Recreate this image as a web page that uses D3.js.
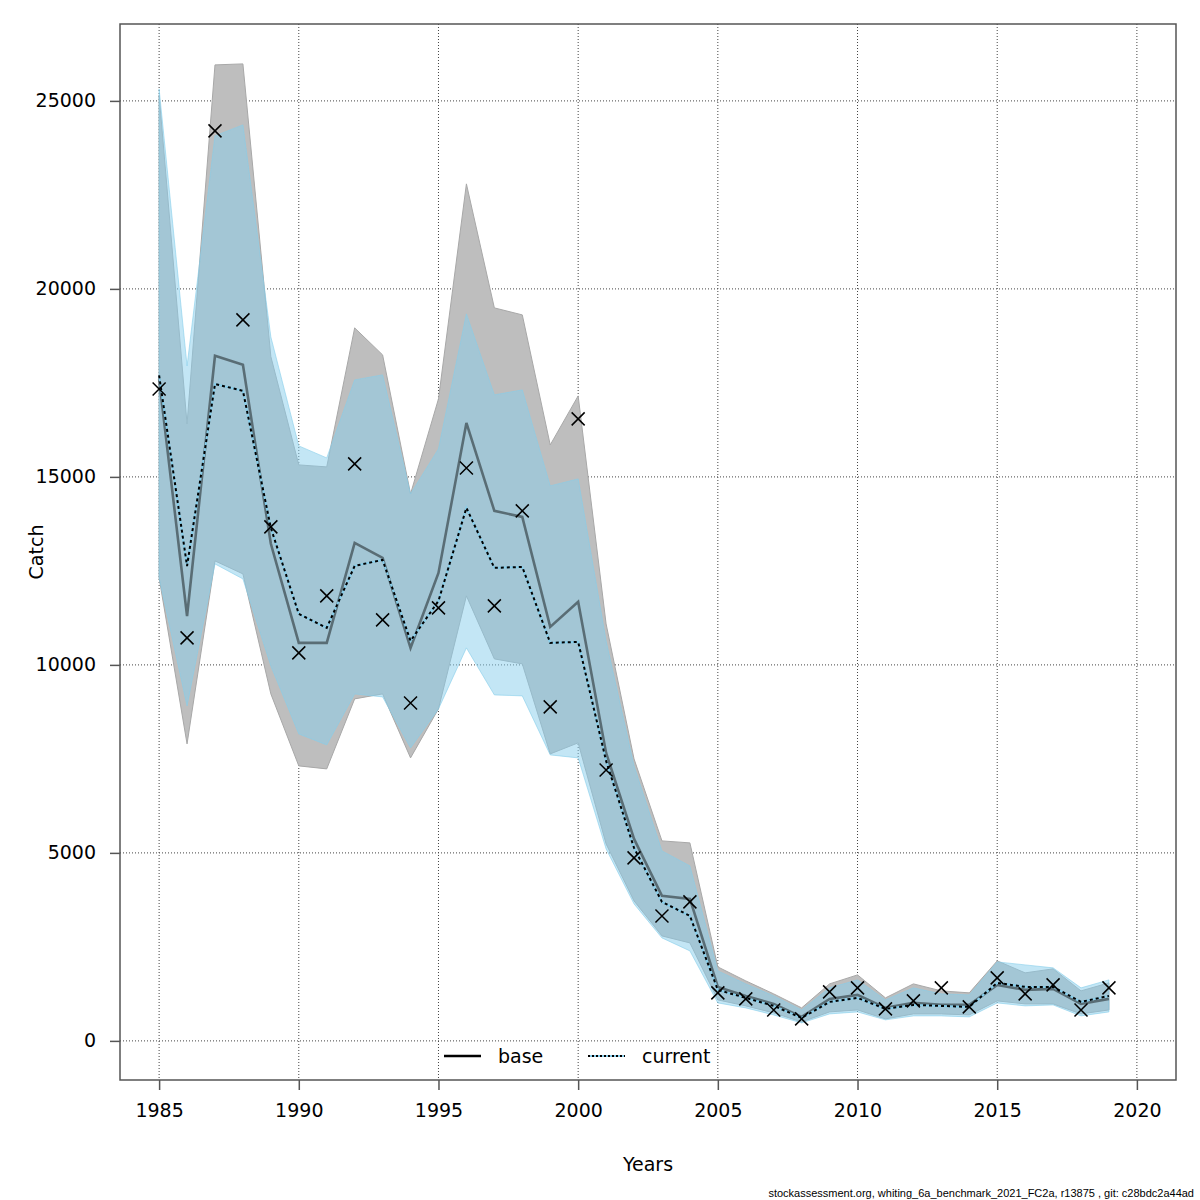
<!DOCTYPE html>
<html>
<head>
<meta charset="utf-8">
<script src="https://cdn.jsdelivr.net/npm/d3@7"></script>
<style>
  body { margin: 0; background: white; }
  svg { display: block; font-family: "DejaVu Sans", sans-serif; }
</style>
</head>
<body>
<svg id="main-svg" width="1200" height="1200"></svg>
<script>
// years of the assessment
const years = d3.range(1985, 2020);

// observed catch (crosses)
const observed = [17340, 10718, 24202, 19176, 13670, 10319, 11835, 15346, 11197, 8989,
  11516, 15239, 11569, 14096, 8883, 16543, 7207, 4867, 3324, 3697,
  1277, 1117, 824, 585, 1303, 1410, 851, 1064, 1410, 904,
  1676, 1250, 1489, 824, 1410];

// base run: estimate and confidence bounds
const baseEst = [17600, 11300, 18220, 17980, 13220, 10585, 10585, 13245, 12846, 10452,
  12447, 16436, 14096, 13936, 11011, 11676, 7660, 5372, 3856, 3777,
  1436, 1197, 984, 638, 1117, 1223, 878, 1011, 957, 957,
  1489, 1356, 1383, 984, 1117];
const baseLow = [12314, 7899, 12766, 12420, 9229, 7314, 7234, 9096, 9229, 7527,
  8830, 11835, 10160, 10027, 7633, 7926, 5239, 3723, 2792, 2606,
  1090, 931, 745, 505, 771, 824, 585, 718, 718, 691,
  1064, 984, 984, 718, 824];
const baseHigh = [25150, 16410, 25958, 25984, 18200, 15319, 15266, 18963, 18245, 14548,
  17075, 22793, 19495, 19309, 15851, 17154, 11090, 7500, 5319, 5266,
  1968, 1596, 1250, 878, 1516, 1755, 1144, 1516, 1330, 1277,
  2128, 1809, 1915, 1330, 1543];

// current run: estimate and confidence bounds
const curEst = [17700, 12630, 17470, 17290, 13640, 11356, 10984, 12633, 12793, 10638,
  11702, 14176, 12580, 12606, 10585, 10612, 7447, 5133, 3697, 3325,
  1356, 1144, 931, 612, 1037, 1144, 851, 957, 931, 904,
  1543, 1436, 1436, 1037, 1197];
const curLow = [12314, 8910, 12686, 12287, 9973, 8165, 7872, 9229, 9149, 7793,
  8830, 10452, 9202, 9176, 7606, 7527, 5106, 3644, 2739, 2394,
  1011, 878, 691, 479, 718, 771, 559, 665, 665, 638,
  1011, 931, 957, 665, 771];
const curHigh = [25319, 17952, 24069, 24362, 18723, 15825, 15505, 17580, 17713, 14548,
  15745, 19335, 17181, 17314, 14761, 14947, 10638, 7314, 5053, 4654,
  1862, 1516, 1197, 824, 1410, 1622, 1090, 1410, 1250, 1223,
  2101, 2021, 1942, 1410, 1622];

const xTicks = [1985, 1990, 1995, 2000, 2005, 2010, 2015, 2020];
const yTicks = [0, 5000, 10000, 15000, 20000, 25000];
const legendLabels = ["base", "current"];

// plot region
const pLeft = 120, pTop = 24, pRight = 1176, pBottom = 1080;

const svg = d3.select("#main-svg");

// R style 4% extension of the data range
const xr = [1985, 2020], yr = [0, 26005];
const xPad = (xr[1] - xr[0]) * 0.04, yPad = (yr[1] - yr[0]) * 0.04;
const x = d3.scaleLinear().domain([xr[0] - xPad, xr[1] + xPad]).range([pLeft, pRight]);
const y = d3.scaleLinear().domain([yr[0] - yPad, yr[1] + yPad]).range([pBottom, pTop]);

// grid
const grid = svg.append("g")
    .attr("stroke", "#444")
    .attr("stroke-width", 1)
    .attr("stroke-dasharray", "1,2");
grid.selectAll("line.gx").data(xTicks).enter().append("line")
    .attr("x1", d => x(d)).attr("x2", d => x(d))
    .attr("y1", pTop).attr("y2", pBottom);
grid.selectAll("line.gy").data(yTicks).enter().append("line")
    .attr("x1", pLeft).attr("x2", pRight)
    .attr("y1", d => y(d)).attr("y2", d => y(d));

// bands
const band = (lo, hi) => d3.area()
    .x((d, i) => x(years[i]))
    .y0((d, i) => y(lo[i]))
    .y1((d, i) => y(hi[i]));

svg.append("path")
    .attr("d", band(baseLow, baseHigh)(years))
    .attr("fill", "#bebebe")
    .attr("stroke", "#a8a8a8")
    .attr("stroke-width", 1);

svg.append("path")
    .attr("d", band(curLow, curHigh)(years))
    .attr("fill", "skyblue")
    .attr("fill-opacity", 0.5)
    .attr("stroke", "skyblue")
    .attr("stroke-opacity", 0.6)
    .attr("stroke-width", 1);

// lines
const line = vals => d3.line()
    .x((d, i) => x(years[i]))
    .y((d, i) => y(vals[i]))(years);

svg.append("path")
    .attr("d", line(baseEst))
    .attr("fill", "none")
    .attr("stroke", "black")
    .attr("stroke-opacity", 0.45)
    .attr("stroke-width", 2.6);

svg.append("path")
    .attr("d", line(curEst))
    .attr("fill", "none")
    .attr("stroke", "skyblue")
    .attr("stroke-width", 2);

svg.append("path")
    .attr("d", line(curEst))
    .attr("fill", "none")
    .attr("stroke", "black")
    .attr("stroke-width", 2)
    .attr("stroke-dasharray", "3,3");

// observed crosses
const cs = 6.5;
const crosses = svg.append("g")
    .attr("stroke", "black")
    .attr("stroke-width", 1.5);
crosses.selectAll("path").data(years).enter().append("path")
    .attr("d", (d, i) => {
        const cx = x(d), cy = y(observed[i]);
        return `M${cx - cs},${cy - cs}L${cx + cs},${cy + cs}M${cx - cs},${cy + cs}L${cx + cs},${cy - cs}`;
    });

// box
svg.append("rect")
    .attr("x", pLeft).attr("y", pTop)
    .attr("width", pRight - pLeft).attr("height", pBottom - pTop)
    .attr("fill", "none")
    .attr("stroke", "#555")
    .attr("stroke-width", 1.5);

// axes
const xAxis = svg.append("g")
    .attr("transform", `translate(0,${pBottom})`)
    .call(d3.axisBottom(x).tickValues(xTicks).tickFormat(d3.format("d")).tickSize(10).tickPadding(14));
xAxis.select(".domain").remove();
xAxis.selectAll("line").attr("stroke", "#555").attr("stroke-width", 1.5);
xAxis.selectAll("text").attr("font-size", "19px").attr("fill", "black")
    .attr("font-family", "DejaVu Sans, sans-serif");

const yAxis = svg.append("g")
    .attr("transform", `translate(${pLeft},0)`)
    .call(d3.axisLeft(y).tickValues(yTicks).tickFormat(d3.format("d")).tickSize(10).tickPadding(14));
yAxis.select(".domain").remove();
yAxis.selectAll("line").attr("stroke", "#555").attr("stroke-width", 1.5);
yAxis.selectAll("text").attr("font-size", "19px").attr("fill", "black")
    .attr("font-family", "DejaVu Sans, sans-serif");

// axis titles
svg.append("text")
    .attr("x", (pLeft + pRight) / 2)
    .attr("y", 1171)
    .attr("text-anchor", "middle")
    .attr("font-size", "19px")
    .text("Years");

svg.append("text")
    .attr("transform", `translate(43,${(pTop + pBottom) / 2}) rotate(-90)`)
    .attr("text-anchor", "middle")
    .attr("font-size", "19px")
    .text("Catch");

// legend
const legend = svg.append("g").attr("font-size", "19px");
const lg = legend.selectAll("g").data(legendLabels).enter().append("g")
    .attr("transform", (d, i) => `translate(${444 + i * 144},1056)`);
lg.filter(d => d === "base").append("line")
    .attr("x1", 0).attr("x2", 37).attr("y1", 0).attr("y2", 0)
    .attr("stroke", "black").attr("stroke-width", 2.5);
lg.filter(d => d === "current").append("line")
    .attr("x1", 0).attr("x2", 37).attr("y1", 0).attr("y2", 0)
    .attr("stroke", "skyblue").attr("stroke-width", 2);
lg.filter(d => d === "current").append("line")
    .attr("x1", 0).attr("x2", 37).attr("y1", 0).attr("y2", 0)
    .attr("stroke", "black").attr("stroke-width", 2).attr("stroke-dasharray", "2,2");
lg.append("text")
    .attr("x", 54)
    .attr("y", 7)
    .text(d => d);

// footer
svg.append("text")
    .attr("x", 1194)
    .attr("y", 1197)
    .attr("text-anchor", "end")
    .attr("font-size", "11px")
    .attr("font-family", "Liberation Sans, sans-serif")
    .text("stockassessment.org, whiting_6a_benchmark_2021_FC2a, r13875 , git: c28bdc2a44ad");
</script>
</body>
</html>
